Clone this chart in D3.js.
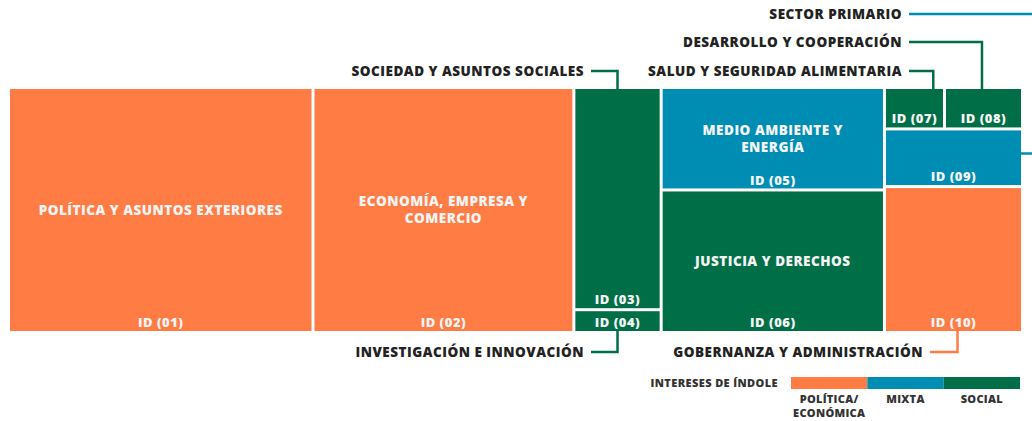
<!DOCTYPE html>
<html>
<head>
<meta charset="utf-8">
<script src="https://cdn.jsdelivr.net/npm/d3@7"></script>
<style>
  body { margin: 0; background: #fff; }
  svg { display: block; font-family: "Open Sans", sans-serif; font-weight: 800; }
</style>
</head>
<body>
<svg id="chart" width="1032" height="421"></svg>
<script>
// Datos del treemap (porcentaje de grupos de interés por área)
var ids = ["01", "02", "03", "04", "05", "06", "07", "08", "09", "10"];
var areas = ["POLÍTICA Y ASUNTOS EXTERIORES", "ECONOMÍA, EMPRESA Y COMERCIO", "SOCIEDAD Y ASUNTOS SOCIALES",
  "INVESTIGACIÓN E INNOVACIÓN", "MEDIO AMBIENTE Y ENERGÍA", "JUSTICIA Y DERECHOS",
  "SALUD Y SEGURIDAD ALIMENTARIA", "DESARROLLO Y COOPERACIÓN", "SECTOR PRIMARIO", "GOBERNANZA Y ADMINISTRACIÓN"];
var values = [30.0, 25.7, 7.8, 0.8, 9.2, 12.8, 1.0, 1.3, 3.2, 8.1];
var indole = ["pol", "pol", "soc", "soc", "mix", "soc", "soc", "soc", "mix", "pol"];
// columna y fila dentro de la columna (07 y 08 comparten fila)
var columna = [1, 2, 3, 3, 4, 4, 5, 5, 5, 5];
var fila = [1, 1, 1, 2, 1, 2, 1, 1, 2, 3];

var legendKeys = ["pol", "mix", "soc"];
var legendLabels = [["POLÍTICA/", "ECONÓMICA"], ["MIXTA"], ["SOCIAL"]];
var legendTitle = "INTERESES DE ÍNDOLE";

// Etiquetas dentro de la caja (con saltos de línea)
var innerLabels = {
  "01": ["POLÍTICA Y ASUNTOS EXTERIORES"],
  "02": ["ECONOMÍA, EMPRESA Y", "COMERCIO"],
  "05": ["MEDIO AMBIENTE Y", "ENERGÍA"],
  "06": ["JUSTICIA Y DERECHOS"]
};

// Etiquetas exteriores con línea de conexión
var callouts = {
  "03": {side: "top", y: 71, textEnd: 584, cx: 0.5},
  "04": {side: "bottom", y: 352, textEnd: 584, cx: 0.5},
  "07": {side: "top", y: 71, textEnd: 902, cx: 0.83},
  "08": {side: "top", y: 42, textEnd: 902, cx: 0.48},
  "09": {side: "right", y: 14, textEnd: 902, cy: 0.42},
  "10": {side: "bottom", y: 352, textEnd: 923, cx: 0.53}
};

var color = d3.scaleOrdinal()
  .domain(legendKeys)
  .range(["#ff7d45", "#008db4", "#006e46"]);

var svg = d3.select("#chart");
var margin = {left: 10, top: 89, right: 11, bottom: 90};
var width = +svg.attr("width") - margin.left - margin.right,
    height = +svg.attr("height") - margin.top - margin.bottom;

// Construir jerarquía: columnas -> filas -> hojas
var items = ids.map(function(id, i) {
  return {id: id, name: areas[i], value: values[i], indole: indole[i], col: columna[i], row: fila[i]};
});
var tree = {name: "root", children: []};
d3.groups(items, function(d) { return d.col; }).forEach(function(c) {
  var colNode = {name: "col" + c[0], children: []};
  d3.groups(c[1], function(d) { return d.row; }).forEach(function(r) {
    if (r[1].length === 1) colNode.children.push(r[1][0]);
    else colNode.children.push({name: "row" + r[0], children: r[1]});
  });
  tree.children.push(colNode);
});

var root = d3.hierarchy(tree).sum(function(d) { return d.children ? 0 : d.value; });

d3.treemap()
  .tile(d3.treemapSliceDice)
  .size([width, height])
  .paddingInner(3)(root);

var g = svg.append("g")
  .attr("transform", "translate(" + margin.left + "," + margin.top + ")");

var leaves = root.leaves();

var cell = g.selectAll("g.cell")
  .data(leaves)
  .enter().append("g")
    .attr("class", "cell")
    .attr("transform", function(d) { return "translate(" + d.x0 + "," + d.y0 + ")"; });

cell.append("rect")
  .attr("width", function(d) { return d.x1 - d.x0; })
  .attr("height", function(d) { return d.y1 - d.y0; })
  .attr("fill", function(d) { return color(d.data.indole); });

// Título interior centrado
cell.filter(function(d) { return innerLabels[d.data.id]; })
  .each(function(d) {
    var lines = innerLabels[d.data.id],
        cx = (d.x1 - d.x0) / 2,
        cy = (d.y1 - d.y0) / 2,
        lh = 17;
    var t = d3.select(this).append("text")
      .attr("text-anchor", "middle")
      .attr("fill", "#f4f4f4")
      .style("font-size", "13.5px")
      .style("letter-spacing", "0.5px");
    lines.forEach(function(line, i) {
      t.append("tspan")
        .attr("x", cx)
        .attr("y", cy + (i - (lines.length - 1) / 2) * lh)
        .attr("dy", "0.35em")
        .text(line);
    });
  });

// ID abajo de cada caja
cell.append("text")
  .attr("x", function(d) { return (d.x1 - d.x0) / 2; })
  .attr("y", function(d) { return Math.max((d.y1 - d.y0) / 2, d.y1 - d.y0 - 8.5); })
  .attr("dy", "0.35em")
  .attr("text-anchor", "middle")
  .attr("fill", "#f4f4f4")
  .style("font-size", "13px")
  .style("letter-spacing", "0.5px")
  .text(function(d) { return "ID (" + d.data.id + ")"; });

// Etiquetas exteriores y conectores
var calloutData = leaves.filter(function(d) { return callouts[d.data.id]; });

var ann = svg.append("g").attr("class", "callouts");

ann.selectAll("path")
  .data(calloutData)
  .enter().append("path")
    .attr("fill", "none")
    .attr("stroke", function(d) { return color(d.data.indole); })
    .attr("stroke-width", 2.5)
    .attr("d", function(d) {
      var c = callouts[d.data.id],
          x0 = margin.left + d.x0, x1 = margin.left + d.x1,
          y0 = margin.top + d.y0, y1 = margin.top + d.y1,
          start = c.textEnd + 7;
      if (c.side === "right") {
        var yy = y0 + (y1 - y0) * c.cy;
        return "M" + start + "," + c.y + "H1045V" + yy + "H" + x1;
      }
      var xx = x0 + (x1 - x0) * c.cx;
      return "M" + start + "," + c.y + "H" + xx + "V" + (c.side === "top" ? y0 : y1);
    });

ann.selectAll("text")
  .data(calloutData)
  .enter().append("text")
    .attr("x", function(d) { return callouts[d.data.id].textEnd; })
    .attr("y", function(d) { return callouts[d.data.id].y; })
    .attr("dy", "0.35em")
    .attr("text-anchor", "end")
    .attr("fill", "#222")
    .style("font-size", "13.5px")
    .style("letter-spacing", "0.5px")
    .text(function(d) { return d.data.name; });

// Leyenda
var legendX = d3.scaleBand()
  .domain(legendKeys)
  .range([791, 1020]);

var legend = svg.append("g").attr("class", "legend");

legend.append("text")
  .attr("x", 778)
  .attr("y", 383)
  .attr("dy", "0.35em")
  .attr("text-anchor", "end")
  .attr("fill", "#333")
  .style("font-size", "11px")
  .style("letter-spacing", "0.4px")
  .text(legendTitle);

legend.selectAll("rect")
  .data(legendKeys)
  .enter().append("rect")
    .attr("x", function(d) { return legendX(d); })
    .attr("y", 377)
    .attr("width", legendX.bandwidth())
    .attr("height", 12)
    .attr("fill", function(d) { return color(d); });

legend.selectAll("text.lab")
  .data(legendKeys)
  .enter().append("text")
    .attr("class", "lab")
    .attr("text-anchor", "middle")
    .attr("fill", "#333")
    .style("font-size", "11px")
    .style("letter-spacing", "0.3px")
    .each(function(d, i) {
      var t = d3.select(this);
      legendLabels[i].forEach(function(line, j) {
        t.append("tspan")
          .attr("x", legendX(d) + legendX.bandwidth() / 2)
          .attr("y", 399 + j * 14)
          .attr("dy", "0.35em")
          .text(line);
      });
    });
</script>
</body>
</html>
